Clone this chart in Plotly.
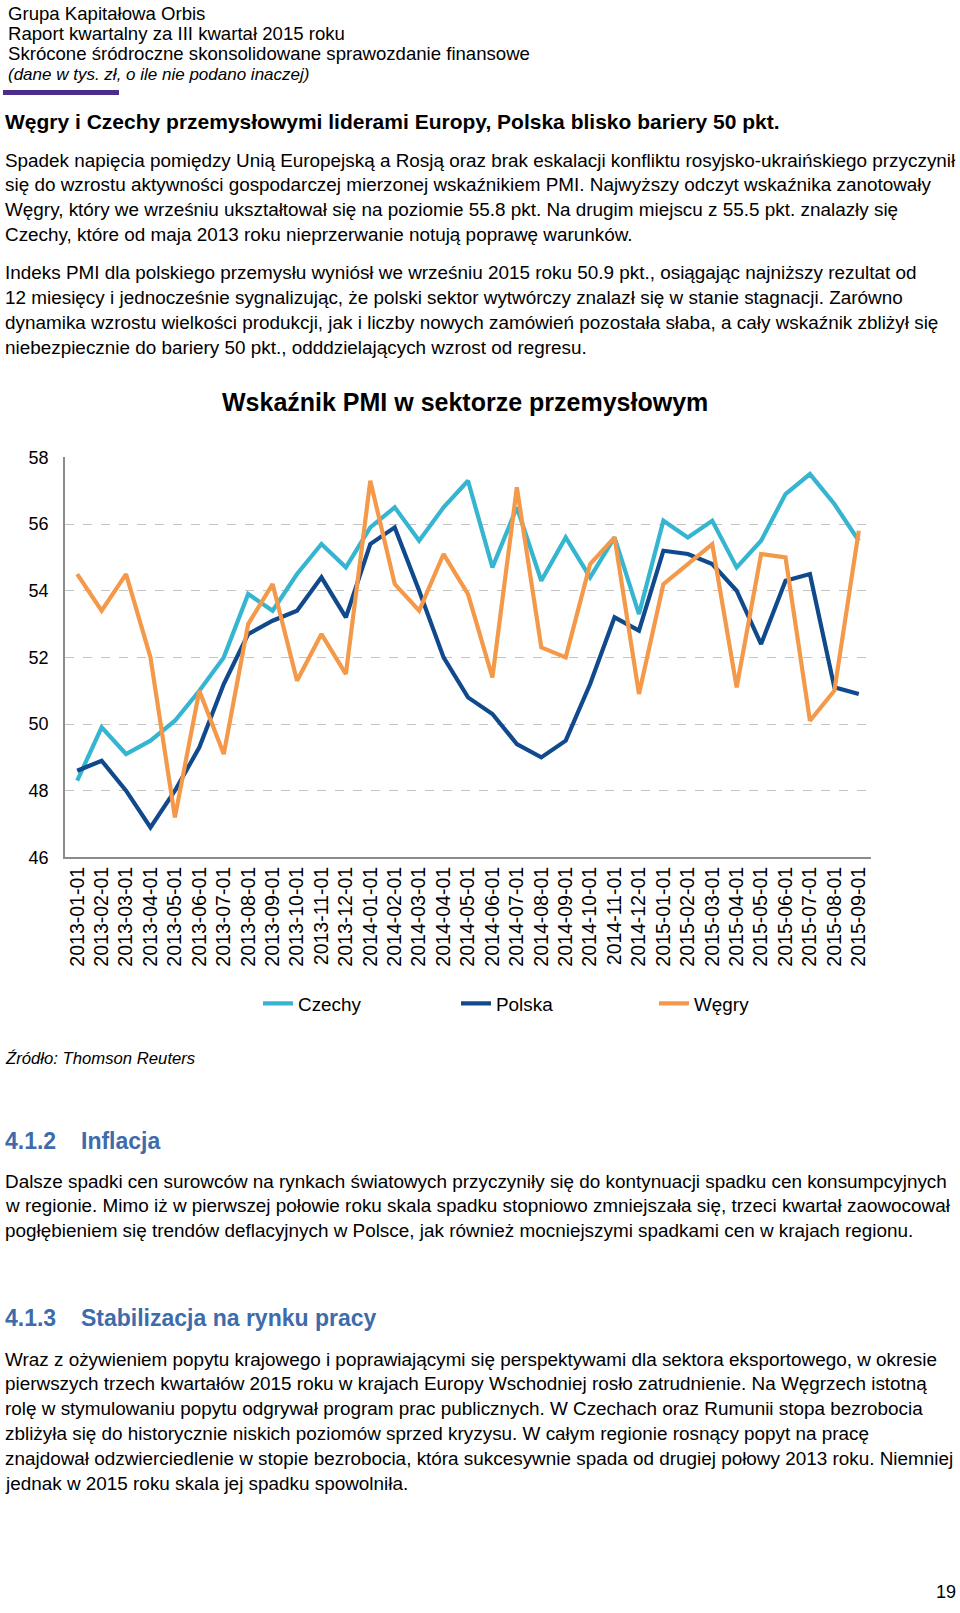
import plotly.graph_objects as go

W, H = 960, 1613

months = ["2013-01-01","2013-02-01","2013-03-01","2013-04-01","2013-05-01","2013-06-01",
          "2013-07-01","2013-08-01","2013-09-01","2013-10-01","2013-11-01","2013-12-01",
          "2014-01-01","2014-02-01","2014-03-01","2014-04-01","2014-05-01","2014-06-01",
          "2014-07-01","2014-08-01","2014-09-01","2014-10-01","2014-11-01","2014-12-01",
          "2015-01-01","2015-02-01","2015-03-01","2015-04-01","2015-05-01","2015-06-01",
          "2015-07-01","2015-08-01","2015-09-01"]

czechy = [48.3, 49.9, 49.1, 49.5, 50.1, 51.0, 52.0, 53.9, 53.4, 54.5, 55.4, 54.7,
          55.9, 56.5, 55.5, 56.5, 57.3, 54.7, 56.5, 54.3, 55.6, 54.4, 55.6, 53.3,
          56.1, 55.6, 56.1, 54.7, 55.5, 56.9, 57.5, 56.6, 55.5]
polska = [48.6, 48.9, 48.0, 46.9, 48.0, 49.3, 51.2, 52.7, 53.1, 53.4, 54.4, 53.2,
          55.4, 55.9, 54.0, 52.0, 50.8, 50.3, 49.4, 49.0, 49.5, 51.2, 53.2, 52.8,
          55.2, 55.1, 54.8, 54.0, 52.4, 54.3, 54.5, 51.1, 50.9]
wegry = [54.5, 53.4, 54.5, 52.0, 47.2, 51.0, 49.1, 53.0, 54.2, 51.3, 52.7, 51.5,
         57.3, 54.2, 53.4, 55.1, 53.9, 51.4, 57.1, 52.3, 52.0, 54.8, 55.6, 50.9,
         54.2, 54.8, 55.4, 51.1, 55.1, 55.0, 50.1, 51.0, 55.8]

series_names = ["Czechy", "Polska", "Węgry"]
series_colors = ["#35B5CF", "#114A8C", "#F4994A"]
y_ticks = [46, 48, 50, 52, 54, 56, 58]

FONT = "Liberation Sans, Arial, sans-serif"
BODY = 18.9

def px_x(p):
    return p / W

def px_y(p):
    return 1 - p / H

fig = go.Figure()
for name, vals, col in zip(series_names, [czechy, polska, wegry], series_colors):
    fig.add_trace(go.Scatter(x=months, y=vals, name=name, mode="lines",
                             line=dict(color=col, width=4.2)))

fig.update_layout(
    width=W, height=H,
    margin=dict(l=0, r=0, t=0, b=0),
    paper_bgcolor="white", plot_bgcolor="white",
    font=dict(family=FONT, size=16, color="black"),
    xaxis=dict(domain=[px_x(65), px_x(871)], type="category", tickangle=-90,
               showline=True, linecolor="#8C8C8C", linewidth=1.5,
               showgrid=False, ticks="", tickfont=dict(size=19.5, color="black"),
               range=[-0.5, len(months) - 0.5]),
    yaxis=dict(domain=[px_y(858), px_y(453)], range=[46, 58], tickvals=y_ticks,
               showline=True, linecolor="#8C8C8C", linewidth=1.5,
               showgrid=True, gridcolor="#C4C4C4", griddash="dash", gridwidth=1,
               zeroline=False, ticks="", ticklabelstandoff=11,
               tickfont=dict(size=18, color="black")),
    legend=dict(orientation="h", x=px_x(258), xanchor="left", y=px_y(1006), yanchor="middle",
                entrywidth=153, entrywidthmode="pixels", font=dict(size=18.9, color="black"),
                bgcolor="rgba(0,0,0,0)"),
    showlegend=True,
)

annotations = []

def txt(text, x, y, size=BODY, bold=False, italic=False, color="black", anchor="left"):
    t = text
    if bold:
        t = "<b>" + t + "</b>"
    if italic:
        t = "<i>" + t + "</i>"
    annotations.append(dict(text=t, x=px_x(x), y=px_y(y), xref="paper", yref="paper",
                            xanchor=anchor, yanchor="middle", showarrow=False,
                            font=dict(family=FONT, size=size, color=color)))

# header
txt("Grupa Kapitałowa Orbis", 6, 4, size=18.6)
txt("Raport kwartalny za III kwartał 2015 roku", 6, 24, size=18.6)
txt("Skrócone śródroczne skonsolidowane sprawozdanie finansowe", 6, 44.5, size=18.6)
txt("(dane w tys. zł, o ile nie podano inaczej)", 6, 65.5, size=17, italic=True)

fig.add_shape(type="rect", xref="paper", yref="paper",
              x0=px_x(3), x1=px_x(119), y0=px_y(86), y1=px_y(81),
              fillcolor="#4B2D8C", line=dict(width=0))

txt("Węgry i Czechy przemysłowymi liderami Europy, Polska blisko bariery 50 pkt.", 3, 112.5, size=21, bold=True)

para1 = [
    "Spadek napięcia pomiędzy Unią Europejską a Rosją oraz brak eskalacji konfliktu rosyjsko-ukraińskiego przyczynił",
    "się do wzrostu aktywności gospodarczej mierzonej wskaźnikiem PMI. Najwyższy odczyt wskaźnika zanotowały",
    "Węgry, który we wrześniu ukształtował się na poziomie 55.8 pkt. Na drugim miejscu z 55.5 pkt. znalazły się",
    "Czechy, które od maja 2013 roku nieprzerwanie notują poprawę warunków.",
]
for i, line in enumerate(para1):
    txt(line, 3, 152 + i * 25.1)

para2 = [
    "Indeks PMI dla polskiego przemysłu wyniósł we wrześniu 2015 roku 50.9 pkt., osiągając najniższy rezultat od",
    "12 miesięcy i jednocześnie sygnalizując, że polski sektor wytwórczy znalazł się w stanie stagnacji. Zarówno",
    "dynamika wzrostu wielkości produkcji, jak i liczby nowych zamówień pozostała słaba, a cały wskaźnik zbliżył się",
    "niebezpiecznie do bariery 50 pkt., odddzielających wzrost od regresu.",
]
for i, line in enumerate(para2):
    txt(line, 3, 266 + i * 25.3)

txt("Wskaźnik PMI w sektorze przemysłowym", 465, 397, size=25, bold=True, anchor="center")

txt("Źródło: Thomson Reuters", 3, 1062, size=16.7, italic=True)

BLUE = "#3E6BAA"
txt("4.1.2", 3, 1145, size=23, bold=True, color=BLUE)
txt("Inflacja", 79, 1145, size=23, bold=True, color=BLUE)

para3 = [
    "Dalsze spadki cen surowców na rynkach światowych przyczyniły się do kontynuacji spadku cen konsumpcyjnych",
    "w regionie. Mimo iż w pierwszej połowie roku skala spadku stopniowo zmniejszała się, trzeci kwartał zaowocował",
    "pogłębieniem się trendów deflacyjnych w Polsce, jak również mocniejszymi spadkami cen w krajach regionu.",
]
for i, line in enumerate(para3):
    txt(line, 3, 1186 + i * 25.0)

txt("4.1.3", 3, 1324, size=23, bold=True, color=BLUE)
txt("Stabilizacja na rynku pracy", 79, 1324, size=23, bold=True, color=BLUE)

para4 = [
    "Wraz z ożywieniem popytu krajowego i poprawiającymi się perspektywami dla sektora eksportowego, w okresie",
    "pierwszych trzech kwartałów 2015 roku w krajach Europy Wschodniej rosło zatrudnienie. Na Węgrzech istotną",
    "rolę w stymulowaniu popytu odgrywał program prac publicznych. W Czechach oraz Rumunii stopa bezrobocia",
    "zbliżyła się do historycznie niskich poziomów sprzed kryzysu. W całym regionie rosnący popyt na pracę",
    "znajdował odzwierciedlenie w stopie bezrobocia, która sukcesywnie spada od drugiej połowy 2013 roku. Niemniej",
    "jednak w 2015 roku skala jej spadku spowolniła.",
]
for i, line in enumerate(para4):
    txt(line, 3, 1366 + i * 25.1)

txt("19", 946, 1602, size=18, anchor="center")

fig.update_layout(annotations=annotations)

fig.write_html("out.html", config={"displayModeBar": False},
               post_script="document.body.style.margin='0px';")
